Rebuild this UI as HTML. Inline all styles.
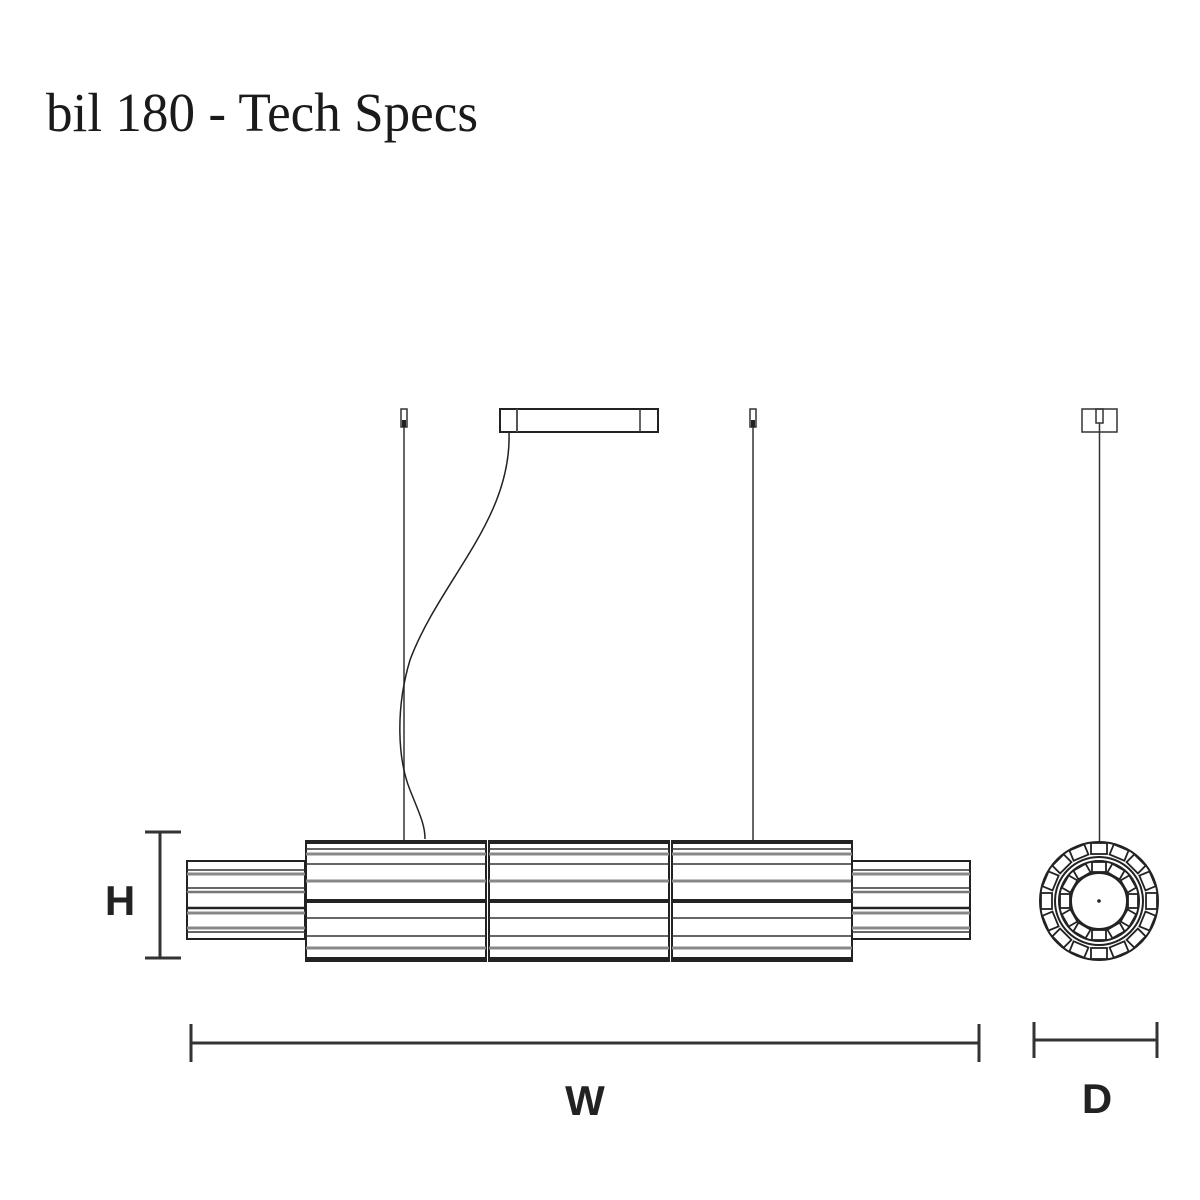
<!DOCTYPE html>
<html><head><meta charset="utf-8"><style>html,body{margin:0;padding:0;background:#fff}svg{display:block}</style></head>
<body>
<svg width="1200" height="1200" viewBox="0 0 1200 1200" xmlns="http://www.w3.org/2000/svg">
<rect width="1200" height="1200" fill="#fff"/>
<text x="46" y="131" font-family="Liberation Serif, serif" font-size="55" fill="#1a1a1a" textLength="432" lengthAdjust="spacingAndGlyphs">bil 180 - Tech Specs</text>

<defs>
<g id="seg">
<rect x="0" y="841" width="180" height="120" fill="none" stroke="#222" stroke-width="2"/>
<rect x="0" y="840" width="180" height="4" fill="#222"/>
<line x1="0" x2="180" y1="849" y2="849" stroke="#333" stroke-width="1.5"/>
<line x1="0" x2="180" y1="854" y2="854" stroke="#888" stroke-width="3"/>
<line x1="0" x2="180" y1="864" y2="864" stroke="#333" stroke-width="1.5"/>
<line x1="0" x2="180" y1="881" y2="881" stroke="#888" stroke-width="3"/>
<line x1="0" x2="180" y1="901" y2="901" stroke="#222" stroke-width="4"/>
<line x1="0" x2="180" y1="918" y2="918" stroke="#333" stroke-width="1.5"/>
<line x1="0" x2="180" y1="936" y2="936" stroke="#333" stroke-width="1.5"/>
<line x1="0" x2="180" y1="948" y2="948" stroke="#888" stroke-width="3"/>
<rect x="0" y="957" width="180" height="4" fill="#222"/>
</g>
<g id="end">
<rect x="0" y="861" width="118" height="78" fill="none" stroke="#222" stroke-width="2"/>
<line x1="0" x2="118" y1="870" y2="870" stroke="#333" stroke-width="1.5"/>
<line x1="0" x2="118" y1="874" y2="874" stroke="#888" stroke-width="3"/>
<line x1="0" x2="118" y1="888" y2="888" stroke="#333" stroke-width="1.5"/>
<line x1="0" x2="118" y1="892" y2="892" stroke="#777" stroke-width="2.5"/>
<line x1="0" x2="118" y1="908" y2="908" stroke="#222" stroke-width="2.5"/>
<line x1="0" x2="118" y1="913" y2="913" stroke="#888" stroke-width="3"/>
<line x1="0" x2="118" y1="928" y2="928" stroke="#888" stroke-width="3"/>
<line x1="0" x2="118" y1="932" y2="932" stroke="#333" stroke-width="1.5"/>
</g>
</defs>

<rect x="500" y="409" width="158" height="23" fill="none" stroke="#222" stroke-width="2"/>
<line x1="517" y1="409" x2="517" y2="432" stroke="#555" stroke-width="2"/>
<line x1="640" y1="409" x2="640" y2="432" stroke="#333" stroke-width="1.5"/>
<rect x="401" y="409" width="6" height="18" fill="none" stroke="#333" stroke-width="1.5"/>
<rect x="402" y="420" width="4" height="7" fill="#222"/>
<rect x="750" y="409" width="6" height="18" fill="none" stroke="#333" stroke-width="1.5"/>
<rect x="751" y="420" width="4" height="7" fill="#222"/>
<line x1="404" y1="427" x2="404" y2="840" stroke="#333" stroke-width="1.5"/>
<line x1="753" y1="427" x2="753" y2="840" stroke="#333" stroke-width="1.5"/>
<path d="M509,432 C512,520 440,580 410,660 C395,710 398,760 410,790 C420,815 425,825 425,839" fill="none" stroke="#222" stroke-width="1.5"/>

<use href="#end" x="187"/>
<use href="#seg" x="306"/>
<use href="#seg" x="489"/>
<use href="#seg" x="672"/>
<use href="#end" x="852"/>

<rect x="1082" y="409" width="35" height="23" fill="none" stroke="#333" stroke-width="1.5"/>
<rect x="1096" y="409" width="7" height="14" fill="none" stroke="#333" stroke-width="1.5"/>
<line x1="1099.5" y1="423" x2="1099.5" y2="845" stroke="#333" stroke-width="1.5"/>
<g fill="none" stroke="#222" stroke-width="2">
<circle cx="1099" cy="901" r="59"/>
<circle cx="1099" cy="901" r="44"/>
<circle cx="1099" cy="901" r="40"/>
</g>
<g fill="#fff" stroke="#222" stroke-width="1.8">
<rect x="1091" y="843" width="16" height="11" transform="rotate(0 1099 901)"/>
<rect x="1091" y="843" width="16" height="11" transform="rotate(22.5 1099 901)"/>
<rect x="1091" y="843" width="16" height="11" transform="rotate(45 1099 901)"/>
<rect x="1091" y="843" width="16" height="11" transform="rotate(67.5 1099 901)"/>
<rect x="1091" y="843" width="16" height="11" transform="rotate(90 1099 901)"/>
<rect x="1091" y="843" width="16" height="11" transform="rotate(112.5 1099 901)"/>
<rect x="1091" y="843" width="16" height="11" transform="rotate(135 1099 901)"/>
<rect x="1091" y="843" width="16" height="11" transform="rotate(157.5 1099 901)"/>
<rect x="1091" y="843" width="16" height="11" transform="rotate(180 1099 901)"/>
<rect x="1091" y="843" width="16" height="11" transform="rotate(202.5 1099 901)"/>
<rect x="1091" y="843" width="16" height="11" transform="rotate(225 1099 901)"/>
<rect x="1091" y="843" width="16" height="11" transform="rotate(247.5 1099 901)"/>
<rect x="1091" y="843" width="16" height="11" transform="rotate(270 1099 901)"/>
<rect x="1091" y="843" width="16" height="11" transform="rotate(292.5 1099 901)"/>
<rect x="1091" y="843" width="16" height="11" transform="rotate(315 1099 901)"/>
<rect x="1091" y="843" width="16" height="11" transform="rotate(337.5 1099 901)"/>
<rect x="1092" y="862" width="14" height="10" transform="rotate(0 1099 901)"/>
<rect x="1092" y="862" width="14" height="10" transform="rotate(30 1099 901)"/>
<rect x="1092" y="862" width="14" height="10" transform="rotate(60 1099 901)"/>
<rect x="1092" y="862" width="14" height="10" transform="rotate(90 1099 901)"/>
<rect x="1092" y="862" width="14" height="10" transform="rotate(120 1099 901)"/>
<rect x="1092" y="862" width="14" height="10" transform="rotate(150 1099 901)"/>
<rect x="1092" y="862" width="14" height="10" transform="rotate(180 1099 901)"/>
<rect x="1092" y="862" width="14" height="10" transform="rotate(210 1099 901)"/>
<rect x="1092" y="862" width="14" height="10" transform="rotate(240 1099 901)"/>
<rect x="1092" y="862" width="14" height="10" transform="rotate(270 1099 901)"/>
<rect x="1092" y="862" width="14" height="10" transform="rotate(300 1099 901)"/>
<rect x="1092" y="862" width="14" height="10" transform="rotate(330 1099 901)"/>
</g>
<circle cx="1099" cy="901" r="28" fill="#fff" stroke="#222" stroke-width="2"/>
<circle cx="1099" cy="901" r="1.8" fill="#222"/>

<g stroke="#333" stroke-width="3" fill="none">
<line x1="160" y1="832" x2="160" y2="958"/>
<line x1="145" y1="832" x2="181" y2="832"/>
<line x1="145" y1="958" x2="181" y2="958"/>
<line x1="191" y1="1043" x2="979" y2="1043"/>
<line x1="191" y1="1024" x2="191" y2="1062"/>
<line x1="979" y1="1024" x2="979" y2="1062"/>
<line x1="1034" y1="1040" x2="1157" y2="1040"/>
<line x1="1034" y1="1022" x2="1034" y2="1058"/>
<line x1="1157" y1="1022" x2="1157" y2="1058"/>
</g>
<g font-family="Liberation Sans, sans-serif" font-weight="bold" font-size="42" fill="#222" text-anchor="middle">
<text x="120" y="915">H</text>
<text x="585" y="1115">W</text>
<text x="1097" y="1113">D</text>
</g>
</svg>
</body></html>
